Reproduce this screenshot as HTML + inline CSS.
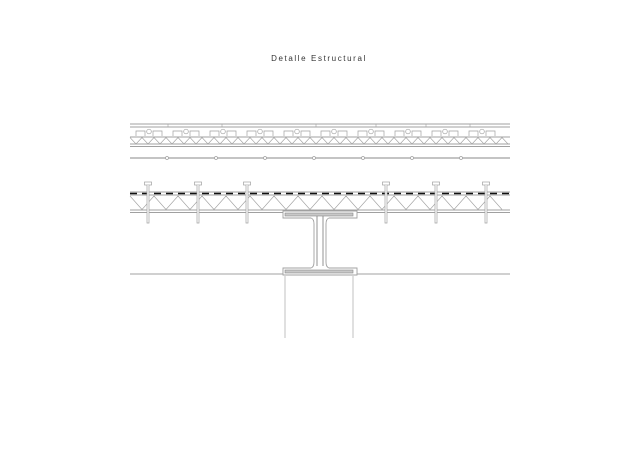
<!DOCTYPE html>
<html><head><meta charset="utf-8"><style>
html,body{margin:0;padding:0;background:#fff;width:640px;height:452px;overflow:hidden}
svg{display:block}
</style></head><body>
<svg id="s" width="640" height="452" viewBox="0 0 640 452" xmlns="http://www.w3.org/2000/svg">
<text x="319" y="61" text-anchor="middle" font-family="Liberation Sans, sans-serif" font-size="8" letter-spacing="1.6" fill="#333">Detalle Estructural</text>
<g id="g" fill="none" stroke="#a0a0a0" stroke-width="0.9">
<line x1="130" y1="124" x2="510" y2="124"/>
<line x1="130" y1="127" x2="510" y2="127"/>
<line x1="130" y1="137" x2="510" y2="137" stroke-width="1.1"/>
<line x1="130" y1="144" x2="510" y2="144"/>
<line x1="130" y1="146.5" x2="510" y2="146.5"/>
<line x1="130" y1="158" x2="510" y2="158" stroke-width="1.2"/>
<line x1="130" y1="192" x2="510" y2="192"/>
<line x1="130" y1="195" x2="510" y2="195"/>
<line x1="130" y1="210" x2="510" y2="210"/>
<line x1="130" y1="212.5" x2="510" y2="212.5"/>
<line x1="130" y1="193.5" x2="510" y2="193.5" stroke="#111" stroke-width="1.6" stroke-dasharray="7,5"/>
<path d="M130 274 H283 V270 H357 V274 H510"/>
<path d="M285 276 V338 M353 276 V338" stroke="#bbb"/>
<path d="M283 211 H357 V218 H329 Q326 219 326 224 V262 Q326 267 329 268 H357 V275 H283 V268 H311 Q314 267 314 262 V224 Q314 219 311 218 H283 Z" fill="#fff"/>
<rect x="285" y="213" width="68" height="3" fill="#c8c8c8" stroke="#888" stroke-width="0.6"/>
<rect x="285" y="270" width="68" height="3" fill="#c8c8c8" stroke="#888" stroke-width="0.6"/>
<path d="M317 216 V266 M323 216 V266" stroke="#888"/>
</g>
</svg>
<script>
var g=document.getElementById('g'),ns='http://www.w3.org/2000/svg';
function el(t,a){var e=document.createElementNS(ns,t);for(var k in a)e.setAttribute(k,a[k]);g.appendChild(e);return e;}
var d='';for(var x=130,i=0;x<=510;x+=6,i++){d+=(i?'L':'M')+x+' '+(i%2?144:137.5);}el('path',{d:d,'stroke-width':0.6});
d='';for(var x=130,i=0;x<=510;x+=12,i++){d+=(i?'L':'M')+x+' '+(i%2?209.5:196);}el('path',{d:d,'stroke-width':0.6});
for(var x=136;x<500;x+=37){el('path',{d:'M'+x+' 136 V131 H'+(x+9)+' V136','stroke-width':0.7});el('circle',{cx:x+13,cy:131.5,r:2.3,'stroke-width':0.7});el('path',{d:'M'+(x+17)+' 136 V131 H'+(x+26)+' V136','stroke-width':0.7});}
[168,222,316,376,426,470].forEach(function(x){el('line',{x1:x,y1:124,x2:x,y2:127,'stroke-width':0.6});});
for(var x=167;x<510;x+=49){el('circle',{cx:x,cy:158,r:1.5,fill:'#fff','stroke-width':0.7});}
[148,198,247,386,436,486].forEach(function(x){el('rect',{x:x-3.5,y:182,width:7,height:3,fill:'#fff','stroke-width':0.7});el('path',{d:'M'+(x-1)+' 185 V223 H'+(x+1)+' V185','stroke-width':0.7,fill:'#fff'});});
</script>
</body></html>
